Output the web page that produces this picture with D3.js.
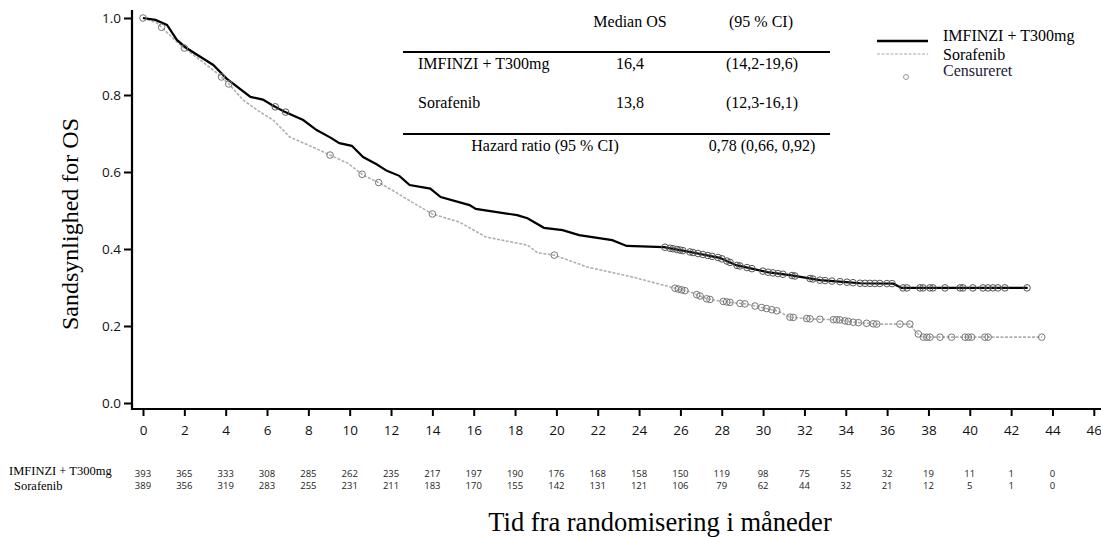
<!DOCTYPE html>
<html>
<head>
<meta charset="utf-8">
<script src="https://cdn.jsdelivr.net/npm/d3@7"></script>
<style>
  html, body { margin: 0; padding: 0; background: #fff; }
  svg { display: block; }
</style>
</head>
<body>
<svg id="chart" width="1101" height="537"></svg>
<script>
// curve readings (months, survival probability)
const imfTime = [0, 0.6, 1.16, 1.64, 2.1, 3.4, 4.06, 5.2, 5.8, 6.3, 6.8, 7.75, 8.4, 9.05, 9.5, 10.1, 10.65, 11.3, 11.8, 12.4, 12.9, 13.9, 14.4, 15.8, 16.1, 18.1, 18.6, 19.4, 20.3, 21.1, 22.7, 23.4, 25.2, 26.5, 27.9, 28.7, 30.2, 31.3, 32.75, 34.0, 34.7, 36.3, 36.7, 42.8];
const imfSurv = [1.0, 0.995, 0.982, 0.943, 0.922, 0.878, 0.842, 0.795, 0.788, 0.772, 0.758, 0.735, 0.709, 0.690, 0.675, 0.668, 0.639, 0.620, 0.603, 0.590, 0.566, 0.557, 0.535, 0.514, 0.504, 0.488, 0.480, 0.455, 0.449, 0.436, 0.423, 0.408, 0.405, 0.392, 0.377, 0.358, 0.340, 0.332, 0.319, 0.314, 0.311, 0.310, 0.299, 0.299];

const sorTime = [0, 0.68, 1.64, 2.0, 2.76, 3.7, 4.2, 4.84, 5.66, 6.3, 7.1, 8.2, 9.05, 9.9, 10.65, 11.5, 12.3, 13.1, 14.0, 15.3, 16.6, 18.6, 19.1, 19.9, 21.5, 23.7, 25.6, 26.5, 27.3, 28.3, 29.2, 29.85, 30.7, 31.3, 32.4, 33.7, 34.3, 35.5, 37.1, 37.4, 37.7, 43.5];
const sorSurv = [1.0, 0.987, 0.938, 0.922, 0.891, 0.852, 0.826, 0.787, 0.756, 0.735, 0.691, 0.665, 0.644, 0.623, 0.592, 0.570, 0.545, 0.519, 0.491, 0.470, 0.431, 0.410, 0.390, 0.384, 0.353, 0.327, 0.300, 0.288, 0.270, 0.262, 0.257, 0.249, 0.239, 0.223, 0.218, 0.216, 0.210, 0.205, 0.205, 0.184, 0.171, 0.171];

// censoring times
const imfCensor = [6.4, 6.9, 25.25, 25.5, 25.64, 25.83, 25.98, 26.12, 26.46, 26.61, 26.85, 27.09, 27.33, 27.53, 27.82, 28.01, 28.25, 28.4, 28.74, 28.88, 29.22, 29.46, 29.99, 30.24, 30.48, 30.72, 30.96, 31.4, 31.54, 32.27, 32.41, 32.75, 33.0, 33.33, 33.72, 34.06, 34.35, 34.69, 34.93, 35.17, 35.41, 35.65, 35.99, 36.24, 36.77, 36.96, 37.59, 37.74, 38.07, 38.22, 38.8, 39.53, 39.67, 40.15, 40.64, 40.88, 41.12, 41.36, 41.7, 42.77];
const sorCensor = [0, 0.9, 2.0, 3.8, 4.15, 9.05, 10.6, 11.4, 14.0, 19.9, 25.74, 25.9, 26.06, 26.22, 26.79, 26.95, 27.27, 27.43, 28.07, 28.24, 28.4, 28.88, 29.12, 29.61, 29.93, 30.17, 30.42, 30.66, 31.3, 31.46, 32.11, 32.27, 32.75, 33.4, 33.56, 33.72, 33.96, 34.12, 34.36, 34.61, 35.01, 35.33, 35.5, 36.62, 37.1, 37.51, 37.75, 37.92, 38.07, 38.56, 39.12, 39.77, 39.93, 40.09, 40.73, 40.89, 43.48];

// number at risk
const riskMonths = [0, 2, 4, 6, 8, 10, 12, 14, 16, 18, 20, 22, 24, 26, 28, 30, 32, 34, 36, 38, 40, 42, 44];
const imfRisk = [393, 365, 333, 308, 285, 262, 235, 217, 197, 190, 176, 168, 158, 150, 119, 98, 75, 55, 32, 19, 11, 1, 0];
const sorRisk = [389, 356, 319, 283, 255, 231, 211, 183, 170, 155, 142, 131, 121, 106, 79, 62, 44, 32, 21, 12, 5, 1, 0];

const xTicks = d3.range(0, 47, 2);
const yTicks = [0, 0.2, 0.4, 0.6, 0.8, 1.0];

const tableHead = ["Median OS", "(95 % CI)"];
const tableRows = [
  ["IMFINZI + T300mg", "16,4", "(14,2-19,6)"],
  ["Sorafenib", "13,8", "(12,3-16,1)"]
];
const hazardText = ["Hazard ratio (95 % CI)", "0,78 (0,66,  0,92)"];

const svg = d3.select("#chart");
const serif = "'Liberation Serif', 'Times New Roman', serif";
const sans = "'Open Sans', 'Noto Sans', sans-serif";

const x = d3.scaleLinear().domain([0, 46]).range([143, 1093.8]);
const y = d3.scaleLinear().domain([0, 1]).range([403, 18]);

function survAt(times, surv, t) {
  const i = d3.bisectRight(times, t);
  if (i <= 0) return surv[0];
  if (i >= times.length) return surv[surv.length - 1];
  const t0 = times[i - 1], t1 = times[i];
  return surv[i - 1] + (surv[i] - surv[i - 1]) * (t - t0) / (t1 - t0);
}

// axes lines
svg.append("line").attr("x1", 132).attr("x2", 132).attr("y1", 10).attr("y2", 410)
  .attr("stroke", "#000").attr("stroke-width", 2.2);
svg.append("line").attr("x1", 131).attr("x2", 1101).attr("y1", 409).attr("y2", 409)
  .attr("stroke", "#000").attr("stroke-width", 2.2);

const xAxis = svg.append("g")
  .attr("transform", "translate(0,409)")
  .call(d3.axisBottom(x).tickValues(xTicks).tickSize(7).tickPadding(9).tickSizeOuter(0));
xAxis.select(".domain").remove();
xAxis.selectAll(".tick line").attr("stroke", "#000").attr("stroke-width", 2);
xAxis.selectAll(".tick text").attr("font-family", sans).attr("font-size", 13.5).attr("fill", "#111");

const yAxis = svg.append("g")
  .attr("transform", "translate(132,0)")
  .call(d3.axisLeft(y).tickValues(yTicks).tickFormat(d3.format(".1f")).tickSize(8).tickPadding(3).tickSizeOuter(0));
yAxis.select(".domain").remove();
yAxis.selectAll(".tick line").attr("stroke", "#000").attr("stroke-width", 2);
yAxis.selectAll(".tick text").attr("font-family", sans).attr("font-size", 13.5).attr("fill", "#111");

// curves
const line = d3.line().x(d => x(d[0])).y(d => y(d[1]));
svg.append("path")
  .datum(sorTime.map((t, i) => [t, sorSurv[i]]))
  .attr("d", line).attr("fill", "none")
  .attr("stroke", "#b0b0b0").attr("stroke-width", 1.6).attr("stroke-dasharray", "3,1.5");
svg.append("path")
  .datum(imfTime.map((t, i) => [t, imfSurv[i]]))
  .attr("d", line).attr("fill", "none")
  .attr("stroke", "#000").attr("stroke-width", 2.2);

// censor marks
svg.append("g").selectAll("circle")
  .data(sorCensor).join("circle")
  .attr("cx", d => x(d)).attr("cy", d => y(survAt(sorTime, sorSurv, d)))
  .attr("r", 3.3).attr("fill", "none").attr("stroke", "#777").attr("stroke-width", 1);
svg.append("g").selectAll("circle")
  .data(imfCensor).join("circle")
  .attr("cx", d => x(d)).attr("cy", d => y(survAt(imfTime, imfSurv, d)))
  .attr("r", 3.3).attr("fill", "none").attr("stroke", "#555").attr("stroke-width", 1);

// number-at-risk table
const risk = svg.append("g");
risk.selectAll(".imf").data(imfRisk).join("text")
  .attr("x", (d, i) => x(riskMonths[i])).attr("y", 477)
  .attr("text-anchor", "middle").attr("font-family", sans).attr("font-size", 9.5).attr("fill", "#222")
  .text(d => d);
risk.selectAll(".sor").data(sorRisk).join("text")
  .attr("x", (d, i) => x(riskMonths[i])).attr("y", 489)
  .attr("text-anchor", "middle").attr("font-family", sans).attr("font-size", 9.5).attr("fill", "#222")
  .text(d => d);
risk.append("text").attr("x", 9).attr("y", 475).attr("font-family", serif).attr("font-size", 12.5)
  .text("IMFINZI + T300mg");
risk.append("text").attr("x", 14).attr("y", 490).attr("font-family", serif).attr("font-size", 12.5)
  .text("Sorafenib");

// axis titles
svg.append("text")
  .attr("transform", "translate(78,224) rotate(-90)")
  .attr("text-anchor", "middle").attr("font-family", serif).attr("font-size", 24)
  .text("Sandsynlighed for OS");
svg.append("text")
  .attr("x", 660).attr("y", 531)
  .attr("text-anchor", "middle").attr("font-family", serif).attr("font-size", 26.5)
  .text("Tid fra randomisering i måneder");

// median table
const tbl = svg.append("g").attr("font-family", serif).attr("font-size", 16).attr("fill", "#000")
  .style("white-space", "pre");
tbl.append("text").attr("x", 630).attr("y", 27).attr("text-anchor", "middle").text(tableHead[0]);
tbl.append("text").attr("x", 761).attr("y", 27).attr("text-anchor", "middle").text(tableHead[1]);
tbl.append("line").attr("x1", 403).attr("x2", 830).attr("y1", 52).attr("y2", 52)
  .attr("stroke", "#000").attr("stroke-width", 1.8);
tableRows.forEach((r, i) => {
  const yy = 69 + i * 39;
  tbl.append("text").attr("x", 418).attr("y", yy).text(r[0]);
  tbl.append("text").attr("x", 630).attr("y", yy).attr("text-anchor", "middle").text(r[1]);
  tbl.append("text").attr("x", 762).attr("y", yy).attr("text-anchor", "middle").text(r[2]);
});
tbl.append("line").attr("x1", 403).attr("x2", 830).attr("y1", 134).attr("y2", 134)
  .attr("stroke", "#000").attr("stroke-width", 1.8);
tbl.append("text").attr("x", 545).attr("y", 151).attr("text-anchor", "middle").text(hazardText[0]);
tbl.append("text").attr("x", 762).attr("y", 151).attr("text-anchor", "middle").text(hazardText[1]);

// legend
const lg = svg.append("g").attr("font-family", serif).attr("font-size", 16);
lg.append("line").attr("x1", 877).attr("x2", 928).attr("y1", 41).attr("y2", 41)
  .attr("stroke", "#000").attr("stroke-width", 2.5);
lg.append("text").attr("x", 943).attr("y", 41).text("IMFINZI + T300mg");
lg.append("line").attr("x1", 877).attr("x2", 928).attr("y1", 54).attr("y2", 54)
  .attr("stroke", "#aaa").attr("stroke-width", 1.2).attr("stroke-dasharray", "3,1.5");
lg.append("text").attr("x", 943).attr("y", 60).text("Sorafenib");
lg.append("circle").attr("cx", 906).attr("cy", 77).attr("r", 2.5)
  .attr("fill", "none").attr("stroke", "#999").attr("stroke-width", 1);
lg.append("text").attr("x", 943).attr("y", 76).attr("fill", "#1a1a3a").text("Censureret");
</script>
</body>
</html>
